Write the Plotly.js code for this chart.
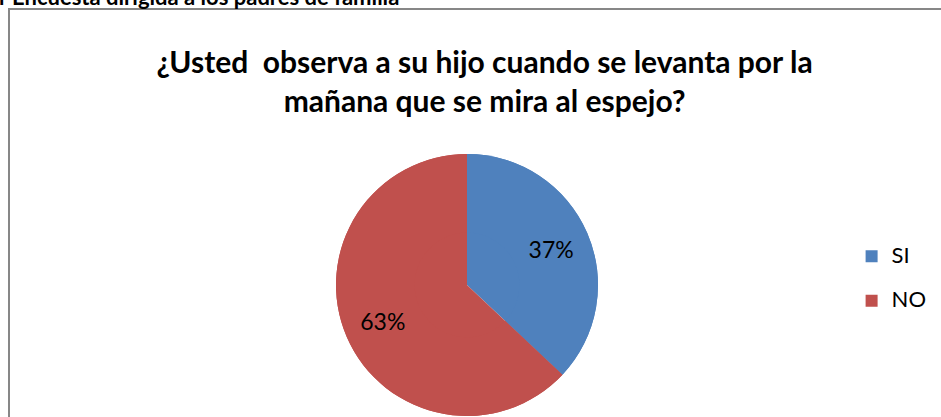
<!DOCTYPE html>
<html>
<head>
<meta charset="utf-8">
<script src="https://cdn.plot.ly/plotly-3.0.1.min.js"></script>
<style>
  html, body { margin: 0; padding: 0; background: #ffffff; }
  #chart { width: 941px; height: 417px; }
</style>
</head>
<body>
<div id="chart"></div>
<script>
// ---- data ----
const categories = ["SI", "NO"];
const values = [37, 63];
const sliceColors = ["#4F81BD", "#C0504D"];
const titleText = "¿Usted&nbsp; observa a su hijo cuando se levanta por la<br>mañana que se mira al espejo?";
const sourceText = "r Encuesta dirigida a los padres de familia";

const FONT = "Lato, 'Open Sans', sans-serif";

// legend labels with an extra blank line to reproduce the wide legend spacing
const legendLabels = categories.map(c => "<span style='font-size:22px'>" + c + "</span><br>&nbsp;");

const pieDomain = { x: [336/941, 598/941], y: [1/417, 263/417] };

// full pie underneath (fills the centre)
const basePie = {
  type: "pie",
  labels: legendLabels,
  values: values,
  sort: false,
  direction: "clockwise",
  rotation: 0,
  marker: { colors: sliceColors, line: { width: 0 } },
  textinfo: "none",
  domain: pieDomain,
  hoverinfo: "skip",
  showlegend: false
};

// ring on top carrying the percentage labels (hole pushes labels outward)
const labelPie = {
  type: "pie",
  labels: legendLabels,
  values: values,
  sort: false,
  direction: "clockwise",
  rotation: 0,
  hole: 0.4,
  marker: { colors: sliceColors, line: { width: 0 } },
  textinfo: "percent",
  texttemplate: "%{percent:.0%}",
  textposition: "inside",
  insidetextorientation: "horizontal",
  textfont: { family: FONT, size: 23, color: "#000000" },
  domain: pieDomain,
  hoverinfo: "percent",
  showlegend: true
};

const layout = {
  width: 941,
  height: 417,
  margin: { l: 0, r: 0, t: 0, b: 0 },
  paper_bgcolor: "#ffffff",
  plot_bgcolor: "#ffffff",
  font: { family: FONT, color: "#000000" },
  title: {
    text: titleText,
    font: { family: FONT, size: 30, color: "#000000", weight: "bold" },
    x: 0.515, xanchor: "center",
    y: 0.826, yanchor: "middle",
    xref: "container", yref: "container"
  },
  legend: {
    x: 0.905, xanchor: "left",
    y: 0.426, yanchor: "top",
    font: { family: FONT, size: 16, color: "#000000" },
    valign: "top",
    bgcolor: "rgba(0,0,0,0)"
  },
  shapes: [{
    type: "rect", xref: "paper", yref: "paper",
    x0: 9/941, x1: 1.02, y0: -0.02, y1: 1 - 9/417,
    line: { color: "#878787", width: 2 },
    fillcolor: "rgba(0,0,0,0)",
    layer: "below"
  }],
  annotations: [{
    text: "<b>" + sourceText + "</b>",
    xref: "paper", yref: "paper",
    x: 0, xanchor: "left", xshift: -3,
    y: 1, yanchor: "bottom", yshift: -12,
    showarrow: false,
    font: { family: FONT, size: 22, color: "#000000" }
  }]
};

Plotly.newPlot("chart", [basePie, labelPie], layout, { displayModeBar: false, staticPlot: true });
</script>
</body>
</html>
